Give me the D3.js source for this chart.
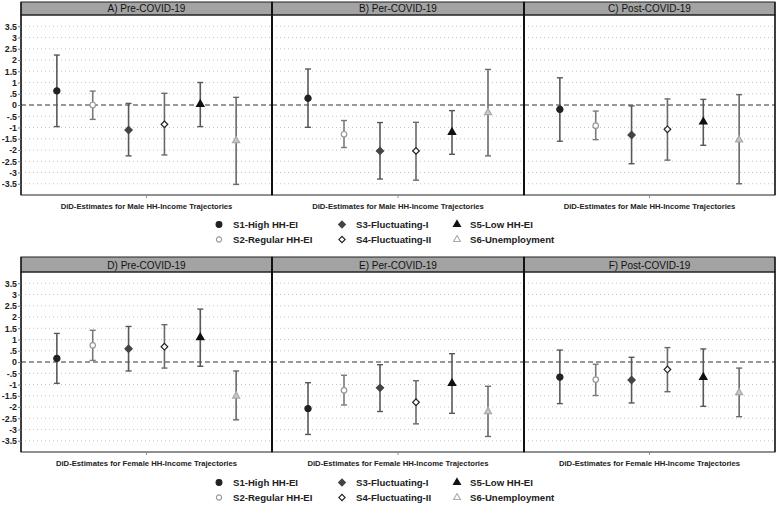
<!DOCTYPE html>
<html><head><meta charset="utf-8">
<script src="https://cdn.jsdelivr.net/npm/d3@7"></script>
<style>body{margin:0;background:#fff}svg{display:block}text{font-family:"Liberation Sans",Arial,sans-serif}</style>
</head><body>
<svg id="c" width="778" height="506"></svg>
<script>
const series = ["S1-High HH-EI","S2-Regular HH-EI","S3-Fluctuating-I","S4-Fluctuating-II","S5-Low HH-EI","S6-Unemployment"];
const panelTitles = ["A) Pre-COVID-19","B) Per-COVID-19","C) Post-COVID-19","D) Pre-COVID-19","E) Per-COVID-19","F) Post-COVID-19"];
const xLabels = ["DiD-Estimates for Male HH-Income Trajectories","DiD-Estimates for Female HH-Income Trajectories"];
const yTicks = [3.5,3,2.5,2,1.5,1,0.5,0,-0.5,-1,-1.5,-2,-2.5,-3,-3.5];
const yTickLabels = ["3.5","3","2.5","2","1.5","1",".5","0","-.5","-1","-1.5","-2","-2.5","-3","-3.5"];
// estimates per panel (S1..S6)
const estA = [0.63,0.00,-1.11,-0.86,0.03,-1.58];
const loA  = [-0.96,-0.64,-2.26,-2.22,-0.96,-3.53];
const hiA  = [2.22,0.62,0.07,0.52,1.00,0.34];
const estB = [0.30,-1.30,-2.04,-2.04,-1.21,-0.34];
const loB  = [-0.99,-1.89,-3.29,-3.34,-2.19,-2.26];
const hiB  = [1.60,-0.69,-0.78,-0.77,-0.25,1.58];
const estC = [-0.19,-0.92,-1.33,-1.08,-0.75,-1.55];
const loC  = [-1.61,-1.54,-2.61,-2.45,-1.79,-3.50];
const hiC  = [1.21,-0.27,-0.04,0.27,0.25,0.46];
const estD = [0.16,0.74,0.59,0.68,1.09,-1.51];
const loD  = [-0.95,0.07,-0.40,-0.27,-0.19,-2.57];
const hiD  = [1.27,1.41,1.58,1.66,2.35,-0.40];
const estE = [-2.07,-1.26,-1.15,-1.79,-0.95,-2.20];
const loE  = [-3.22,-1.91,-2.20,-2.75,-2.28,-3.31];
const hiE  = [-0.92,-0.59,-0.12,-0.83,0.37,-1.08];
const estF = [-0.67,-0.78,-0.80,-0.33,-0.68,-1.36];
const loF  = [-1.85,-1.49,-1.82,-1.32,-1.97,-2.43];
const hiF  = [0.53,-0.10,0.21,0.64,0.58,-0.27];

const panels = [[estA,loA,hiA],[estB,loB,hiB],[estC,loC,hiC],[estD,loD,hiD],[estE,loE,hiE],[estF,loF,hiF]];

const markerStyle = [
  {sym:d3.symbolCircle, size:30, rot:0, fill:"#222", stroke:"#222", bar:"#595959"},
  {sym:d3.symbolCircle, size:24, rot:0, fill:"#fff", stroke:"#999", bar:"#7a7a7a"},
  {sym:d3.symbolSquare, size:26, rot:45, fill:"#444", stroke:"#444", bar:"#595959"},
  {sym:d3.symbolSquare, size:22, rot:45, fill:"#fff", stroke:"#222", bar:"#6a6a6a"},
  {sym:d3.symbolTriangle, size:24, rot:0, fill:"#111", stroke:"#111", bar:"#595959"},
  {sym:d3.symbolTriangle, size:22, rot:0, fill:"#c8c8c8", stroke:"#aaa", bar:"#6a6a6a"}
];

const svg = d3.select("#c");
const colEdges = [21,272,524,775];
const rows = [{hTop:2, top:15, bottom:195, legendY:228},{hTop:257, top:272, bottom:452, legendY:486}];

rows.forEach((row, ri) => {
  const y = d3.scaleLinear().domain([-4,4]).range([row.bottom,row.top]);
  for (let ci=0; ci<3; ci++) {
    const pi = ri*3+ci;
    const x0 = colEdges[ci], x1 = colEdges[ci+1];
    const x = d3.scaleLinear().domain([0,7]).range([x0,x1]);
    const g = svg.append("g");
    g.selectAll(".grid").data(yTicks).join("line")
      .attr("x1",x0).attr("x2",x1).attr("y1",d=>y(d)).attr("y2",d=>y(d))
      .attr("stroke",d=>d===0?"none":"#b5b5b5").attr("stroke-width",0.8).attr("stroke-dasharray","1,3");
    g.append("line").attr("x1",x0).attr("x2",x1).attr("y1",y(0)).attr("y2",y(0))
      .attr("stroke","#777").attr("stroke-width",1.3).attr("stroke-dasharray","5,3");
    g.append("rect").attr("x",x0).attr("y",row.hTop).attr("width",x1-x0).attr("height",row.top-row.hTop)
      .attr("fill","#a3a3a3").attr("stroke","#222").attr("stroke-width",1);
    g.append("text").attr("x",(x0+x1)/2).attr("y",row.top-3).attr("text-anchor","middle")
      .attr("font-size",10).attr("fill","#111").text(panelTitles[pi]);
    g.append("rect").attr("x",x0).attr("y",row.top).attr("width",x1-x0).attr("height",row.bottom-row.top)
      .attr("fill","none").attr("stroke","#222").attr("stroke-width",1);
    const xc = (x0+x1)/2;
    g.append("line").attr("x1",xc).attr("x2",xc).attr("y1",row.bottom).attr("y2",row.bottom+3).attr("stroke","#777").attr("stroke-width",0.8);
    g.append("text").attr("x",xc).attr("y",row.bottom+14).attr("text-anchor","middle")
      .attr("font-size",7.7).attr("font-weight","bold").attr("fill","#222").text(xLabels[ri]);
    const [est,lo,hi] = panels[pi];
    const data = series.map((s,i)=>({i,est:est[i],lo:lo[i],hi:hi[i]}));
    const pts = g.selectAll(".pt").data(data).join("g");
    pts.append("line").attr("x1",d=>x(d.i+1)).attr("x2",d=>x(d.i+1)).attr("y1",d=>y(d.lo)).attr("y2",d=>y(d.hi))
      .attr("stroke",d=>markerStyle[d.i].bar).attr("stroke-width",1.6);
    pts.append("line").attr("x1",d=>x(d.i+1)-3).attr("x2",d=>x(d.i+1)+3).attr("y1",d=>y(d.lo)).attr("y2",d=>y(d.lo))
      .attr("stroke",d=>markerStyle[d.i].bar).attr("stroke-width",1.4);
    pts.append("line").attr("x1",d=>x(d.i+1)-3).attr("x2",d=>x(d.i+1)+3).attr("y1",d=>y(d.hi)).attr("y2",d=>y(d.hi))
      .attr("stroke",d=>markerStyle[d.i].bar).attr("stroke-width",1.4);
    pts.append("path").attr("transform",d=>`translate(${x(d.i+1)},${y(d.est)}) rotate(${markerStyle[d.i].rot})`)
      .attr("d",d=>d3.symbol().type(markerStyle[d.i].sym).size(markerStyle[d.i].size)())
      .attr("fill",d=>markerStyle[d.i].fill).attr("stroke",d=>markerStyle[d.i].stroke).attr("stroke-width",1.2);
  }
  colEdges.forEach((cx,k)=>{
    svg.append("line").attr("x1",cx).attr("x2",cx).attr("y1",row.hTop).attr("y2",row.bottom)
      .attr("stroke","#111").attr("stroke-width",(k===1||k===2)?2:1.3);
  });
  const ax = svg.append("g").attr("transform",`translate(${colEdges[0]},0)`)
    .call(d3.axisLeft(y).tickValues(yTicks).tickSize(3).tickPadding(1).tickFormat((d,i)=>yTickLabels[i]));
  ax.select(".domain").remove();
  ax.selectAll("line").attr("stroke","#777");
  ax.selectAll("text").attr("font-size",8.8).attr("font-weight","bold").attr("fill","#222")
    .attr("font-family","'Liberation Sans',Arial,sans-serif");
  const legCols = [[219,233],[342,356],[457,470]];
  series.forEach((s,i)=>{
    const col = Math.floor(i/2), r = i%2;
    const lx = legCols[col][0], tx = legCols[col][1], ly = row.legendY + r*15;
    const m = markerStyle[i];
    const legFill = i===5 ? "#fff" : m.fill;
    svg.append("path").attr("transform",`translate(${lx},${ly-3.5}) rotate(${m.rot})`)
      .attr("d",d3.symbol().type(m.sym).size(m.size*0.9)()).attr("fill",legFill).attr("stroke",m.stroke).attr("stroke-width",1.1);
    svg.append("text").attr("x",tx).attr("y",ly).attr("font-size",9.6).attr("font-weight","bold").attr("fill","#222").text(s);
  });
});
</script>
</body></html>
